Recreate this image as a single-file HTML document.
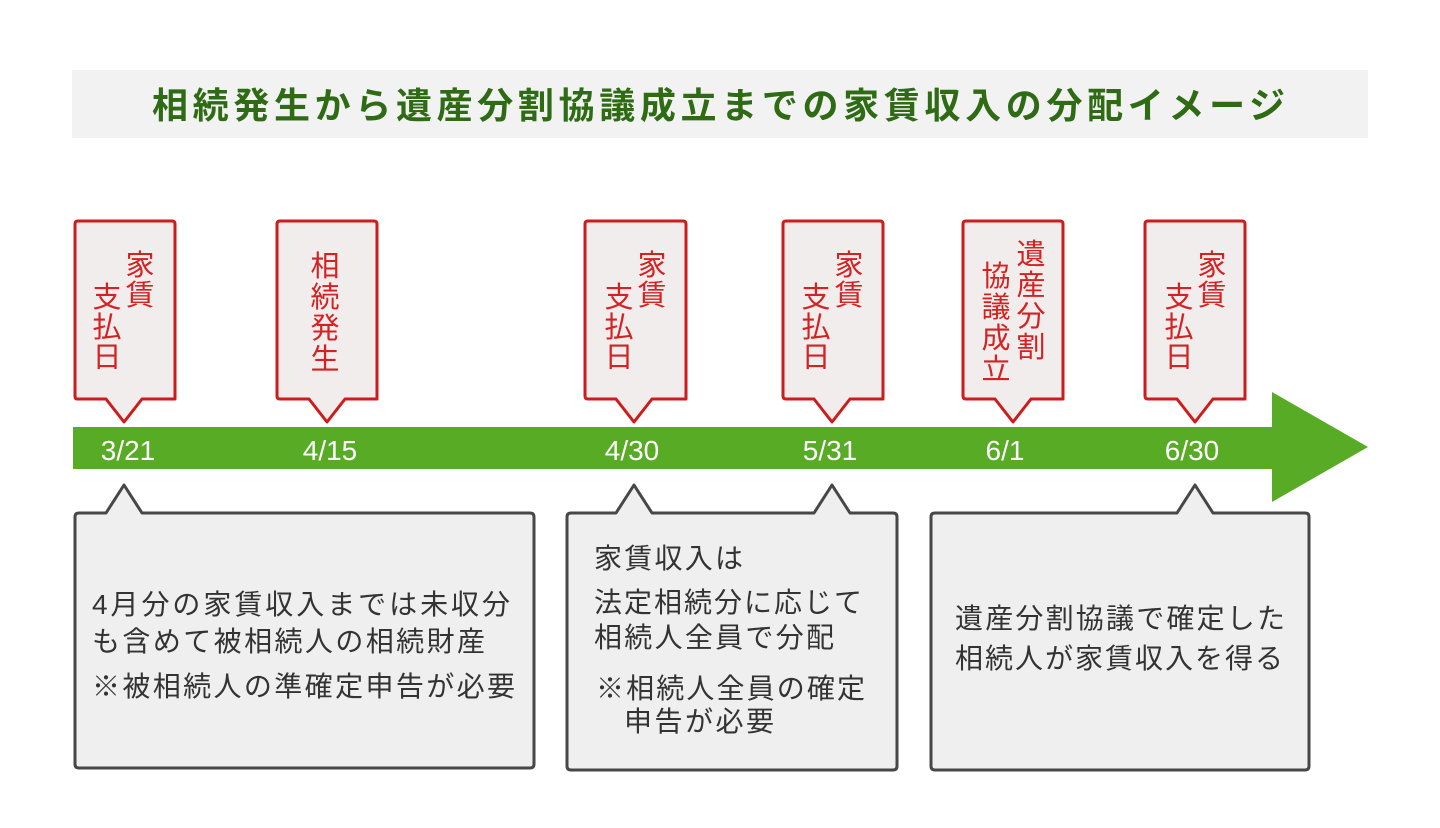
<!DOCTYPE html>
<html><head><meta charset="utf-8"><style>
html,body{margin:0;padding:0;background:#fff;}
svg{display:block;}
text{font-family:"Liberation Sans","Noto Sans CJK JP",sans-serif;}
.v{font-size:29px;fill:#d42222;text-anchor:middle;}
.d{font-size:28px;fill:#fff;text-anchor:middle;}
.b{font-size:28px;fill:#333;}
</style></head><body>
<svg width="1440" height="828" viewBox="0 0 1440 828" xmlns="http://www.w3.org/2000/svg">
<rect x="72" y="70" width="1296" height="68" fill="#f2f2f2"/>
<text x="152" y="118" font-size="36" font-weight="bold" fill="#2e6b14" textLength="1133" lengthAdjust="spacing">相続発生から遺産分割協議成立までの家賃収入の分配イメージ</text>

<path d="M73 427 H1272 V392 L1368 447 L1272 502 V469 H73 Z" fill="#58ab25"/>
<text class="d" x="128" y="460">3/21</text>
<text class="d" x="330" y="460">4/15</text>
<text class="d" x="632" y="460">4/30</text>
<text class="d" x="830" y="460">5/31</text>
<text class="d" x="1005" y="460">6/1</text>
<text class="d" x="1192" y="460">6/30</text>

<g fill="#f1eded" stroke="#cc1c1c" stroke-width="3" stroke-linejoin="round">
<path d="M78 221 H172 Q175 221 175 224 V399 H142 L124 422 L106 399 H77 Q75 399 75 396 V224 Q75 221 78 221 Z"/>
<path d="M280 221 H374 Q377 221 377 224 V399 H345 L327 422 L309 399 H280 Q277 399 277 396 V224 Q277 221 280 221 Z"/>
<path d="M588 221 H683 Q686 221 686 224 V399 H652 L634 422 L616 399 H588 Q585 399 585 396 V224 Q585 221 588 221 Z"/>
<path d="M786 221 H880 Q883 221 883 224 V399 H850 L832 422 L814 399 H786 Q783 399 783 396 V224 Q783 221 786 221 Z"/>
<path d="M966 221 H1060 Q1063 221 1063 224 V399 H1031 L1013 422 L995 399 H966 Q963 399 963 396 V224 Q963 221 966 221 Z"/>
<path d="M1148 221 H1242 Q1245 221 1245 224 V399 H1213 L1195 422 L1177 399 H1148 Q1145 399 1145 396 V224 Q1145 221 1148 221 Z"/>
</g>
<text class="v" x="140" y="275">家</text><text class="v" x="140" y="305">賃</text>
<text class="v" x="107" y="307">支</text><text class="v" x="107" y="337">払</text><text class="v" x="107" y="367">日</text>
<text class="v" x="325" y="276">相</text><text class="v" x="325" y="307">続</text><text class="v" x="325" y="338">発</text><text class="v" x="325" y="369">生</text>
<text class="v" x="652" y="275">家</text><text class="v" x="652" y="305">賃</text>
<text class="v" x="619" y="307">支</text><text class="v" x="619" y="337">払</text><text class="v" x="619" y="367">日</text>
<text class="v" x="849" y="275">家</text><text class="v" x="849" y="305">賃</text>
<text class="v" x="816" y="307">支</text><text class="v" x="816" y="337">払</text><text class="v" x="816" y="367">日</text>
<text class="v" x="1031" y="264">遺</text><text class="v" x="1031" y="295">産</text><text class="v" x="1031" y="326">分</text><text class="v" x="1031" y="357">割</text>
<text class="v" x="996" y="286">協</text><text class="v" x="996" y="317">議</text><text class="v" x="996" y="348">成</text><text class="v" x="996" y="379">立</text>
<text class="v" x="1212" y="275">家</text><text class="v" x="1212" y="305">賃</text>
<text class="v" x="1179" y="307">支</text><text class="v" x="1179" y="337">払</text><text class="v" x="1179" y="367">日</text>

<g fill="#efefef" stroke="#474747" stroke-width="3" stroke-linejoin="round">
<path d="M79 513 H106 L124 485 L142 513 H530 Q534 513 534 517 V764 Q534 768 530 768 H79 Q75 768 75 764 V517 Q75 513 79 513 Z"/>
<path d="M571 513 H616 L634 485 L652 513 H814 L832 485 L850 513 H893 Q897 513 897 517 V766 Q897 770 893 770 H571 Q567 770 567 766 V517 Q567 513 571 513 Z"/>
<path d="M935 513 H1177 L1195 485 L1213 513 H1305 Q1309 513 1309 517 V766 Q1309 770 1305 770 H935 Q931 770 931 766 V517 Q931 513 935 513 Z"/>
</g>
<text class="b" x="92" y="614" textLength="418" lengthAdjust="spacing">4月分の家賃収入までは未収分</text>
<text class="b" x="92" y="651" textLength="393" lengthAdjust="spacing">も含めて被相続人の相続財産</text>
<text class="b" x="92" y="696" textLength="423" lengthAdjust="spacing">※被相続人の準確定申告が必要</text>

<text class="b" x="594" y="568" textLength="149" lengthAdjust="spacing">家賃収入は</text>
<text class="b" x="594" y="612" textLength="268" lengthAdjust="spacing">法定相続分に応じて</text>
<text class="b" x="594" y="647" textLength="240" lengthAdjust="spacing">相続人全員で分配</text>
<text class="b" x="596" y="698" textLength="269" lengthAdjust="spacing">※相続人全員の確定</text>
<text class="b" x="624" y="731" textLength="150" lengthAdjust="spacing">申告が必要</text>

<text class="b" x="955" y="628" textLength="330" lengthAdjust="spacing">遺産分割協議で確定した</text>
<text class="b" x="955" y="668" textLength="328" lengthAdjust="spacing">相続人が家賃収入を得る</text>
</svg>
</body></html>
